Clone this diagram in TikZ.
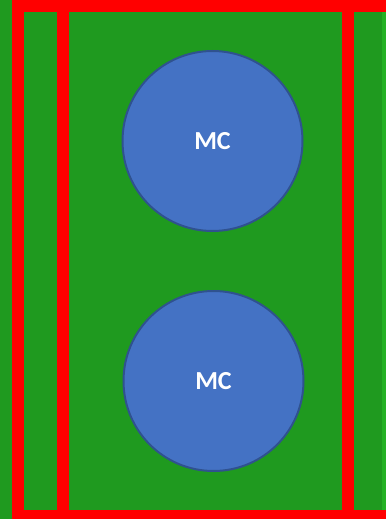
\documentclass[tikz,border=0pt]{standalone}
\usepackage{fontspec}
\setmainfont{Carlito}
\definecolor{bggreen}{RGB}{31,154,31}
\definecolor{edgegreen}{RGB}{36,178,36}
\definecolor{mcblue}{RGB}{68,114,196}
\definecolor{mcborder}{RGB}{47,82,143}
\definecolor{wallred}{RGB}{255,0,0}
\begin{document}
\begin{tikzpicture}[x=1pt,y=-1pt,
  wall/.style={fill=wallred,draw=none},
  mc/.style={circle,minimum size=180pt,inner sep=0pt,fill=mcblue,draw=mcborder,line width=2pt,text=white,font=\bfseries\fontsize{26}{30}\selectfont}]
\useasboundingbox (0,0) rectangle (386,519);
\fill[bggreen] (0,0) rectangle (386,519);
\fill[edgegreen] (382,0) rectangle (386,519);
% red walls
\fill[wall] (12,0) rectangle (386,12);
\fill[wall] (12,510) rectangle (386,519);
\fill[wall] (12,0) rectangle (24,519);
\fill[wall] (57,0) rectangle (69,519);
\fill[wall] (342,0) rectangle (354,519);
% circles
\node[mc] (mc1) at (212.5,141) {MC};
\node[mc] (mc2) at (213.5,381) {MC};
\end{tikzpicture}
\end{document}
